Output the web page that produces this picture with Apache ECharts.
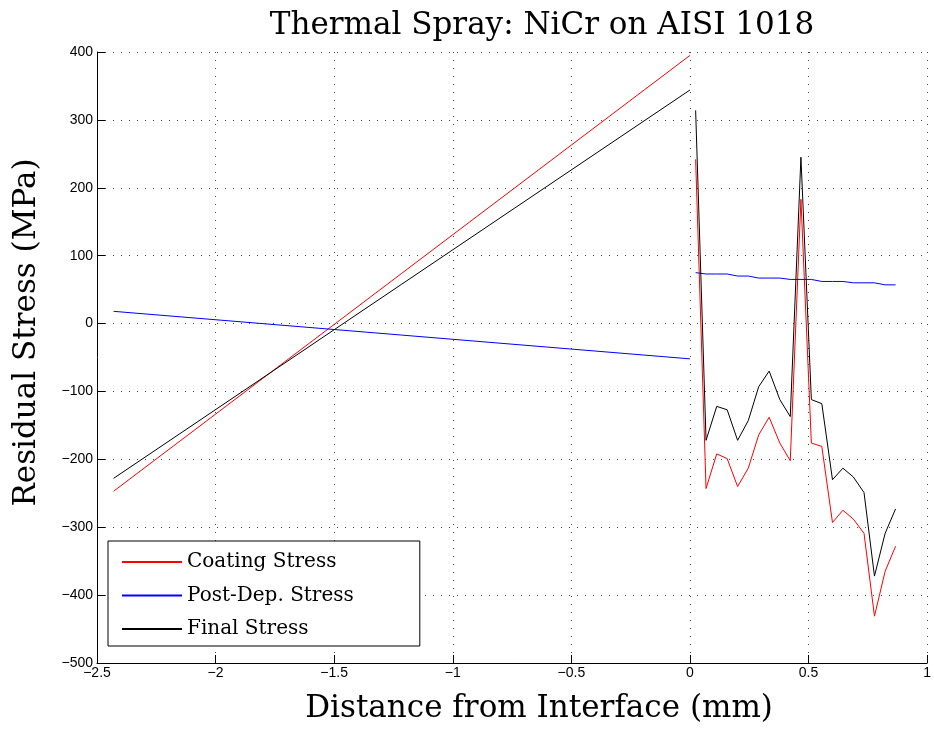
<!DOCTYPE html>
<html>
<head>
<meta charset="utf-8">
<script src="https://cdn.jsdelivr.net/npm/echarts@6/dist/echarts.min.js"></script>
<style>
  html, body { margin: 0; padding: 0; background: #fff; }
  #chart { width: 934px; height: 729px; }
</style>
</head>
<body>
<div id="chart"></div>
<script>
// ---- Data ----
const xTicks = [-2.5, -2, -1.5, -1, -0.5, 0, 0.5, 1];
const yTicks = [-500, -400, -300, -200, -100, 0, 100, 200, 300, 400];

// substrate side (straight lines)
const xLeft = [-2.43, 0];
const coatingLeft = [-247, 395];
const postLeft = [18, -52];
const finalLeft = [-228, 344];

// coating side
const xRight = [0.024, 0.068, 0.113, 0.157, 0.201, 0.246, 0.290, 0.334, 0.379, 0.423,
                0.468, 0.512, 0.556, 0.601, 0.645, 0.689, 0.734, 0.778, 0.823, 0.867];
const coatingRight = [242, -243, -192, -199, -240, -213, -164, -138, -176, -202,
                      183, -176, -181, -293, -275, -288, -309, -431, -365, -328];
const postRight = [75, 73, 73, 73, 70, 70, 67, 67, 67, 65,
                   65, 65, 62, 62, 62, 60, 60, 60, 57, 57];
const finalRight = [314, -172, -122, -127, -172, -143, -93, -70, -112, -137,
                    245, -112, -118, -230, -213, -226, -249, -372, -309, -273];

const names = ['Coating Stress', 'Post-Dep. Stress', 'Final Stress'];
const colors = ['#ff0000', '#0000ff', '#000000'];

function pairs(xs, ys) { return xs.map((x, i) => [x, ys[i]]); }
const leftSets = [coatingLeft, postLeft, finalLeft];
const rightSets = [coatingRight, postRight, finalRight];

const series = names.map((n, k) => ({
  name: n, type: 'line',
  // '-' marks a gap between the substrate part and the coating part
  data: pairs(xLeft, leftSets[k]).concat([['-', '-']], pairs(xRight, rightSets[k])),
  connectNulls: false,
  symbol: 'none', showSymbol: false,
  lineStyle: { color: colors[k], width: 1 },
  itemStyle: { color: colors[k] },
  animation: false, z: 2 + k
}));

const serif = '"DejaVu Serif", "Liberation Serif", serif';
const sans = '"Liberation Sans", Arial, sans-serif';
const fmt = v => String(v).replace('-', '\u2212');
const grid = { color: '#444', width: 1, type: [1, 7] };

const chart = echarts.init(document.getElementById('chart'), null, { renderer: 'canvas' });
chart.setOption({
  backgroundColor: '#fff',
  animation: false,
  color: colors,
  title: {
    text: 'Thermal Spray: NiCr on AISI 1018',
    left: 542, top: 10, textAlign: 'center', padding: 0,
    textStyle: { fontFamily: serif, fontSize: 31, fontWeight: 'normal', color: '#000' }
  },
  grid: { left: 97, right: 4, top: 52, bottom: 66, containLabel: false },
  legend: {
    data: names,
    orient: 'vertical',
    left: 108, top: 541,
    padding: [10, 66, 6, 13],
    itemGap: 11.5,
    itemWidth: 60, itemHeight: 13,
    itemStyle: { opacity: 0 },
    backgroundColor: '#fff',
    borderColor: '#000', borderWidth: 1,
    borderRadius: 0,
    selectedMode: false,
    textStyle: { fontFamily: serif, fontSize: 20, color: '#000', lineHeight: 22 }
  },
  xAxis: {
    type: 'value',
    min: xTicks[0], max: xTicks[xTicks.length - 1], interval: 0.5,
    name: 'Distance from Interface (mm)',
    nameLocation: 'middle', nameGap: 30,
    nameTextStyle: { fontFamily: serif, fontSize: 31, color: '#000', padding: [0, 0, 0, 54] },
    axisLine: { show: true, onZero: false, lineStyle: { color: '#000', width: 1 } },
    axisTick: { show: true, inside: true, length: 8, lineStyle: { color: '#000' } },
    axisLabel: { fontFamily: sans, fontSize: 14, color: '#000', margin: 3, formatter: fmt },
    splitLine: { show: true, lineStyle: grid }
  },
  yAxis: {
    type: 'value',
    min: yTicks[0], max: yTicks[yTicks.length - 1], interval: 100,
    name: 'Residual Stress (MPa)',
    nameLocation: 'middle', nameGap: 55,
    nameTextStyle: { fontFamily: serif, fontSize: 31, color: '#000', padding: [0, 0, 0, 50] },
    axisLine: { show: true, onZero: false, lineStyle: { color: '#000', width: 1 } },
    axisTick: { show: true, inside: true, length: 8, lineStyle: { color: '#000' } },
    axisLabel: { fontFamily: sans, fontSize: 14, color: '#000', margin: 4, formatter: fmt },
    splitLine: { show: true, lineStyle: grid }
  },
  series: series
});
</script>
</body>
</html>
